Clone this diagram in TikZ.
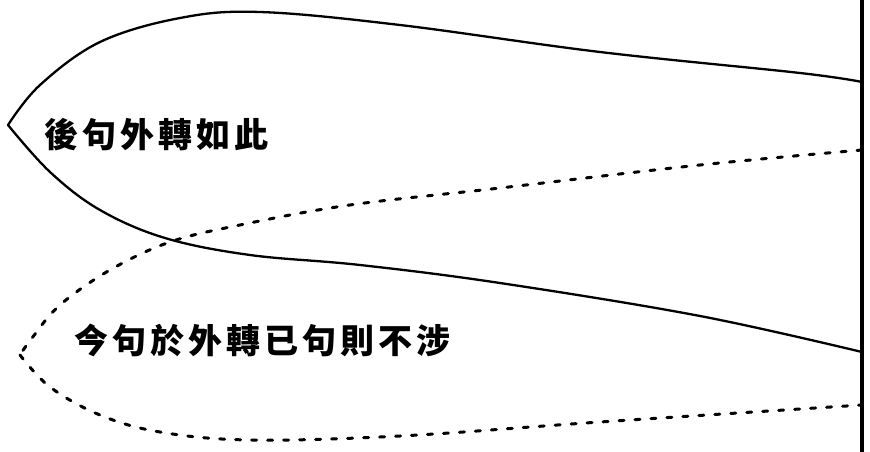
\documentclass[tikz,border=0pt]{standalone}
\usepackage{fontspec}
\newfontfamily\cjk[LetterSpace=12]{Noto Sans CJK TC}
\begin{document}
\begin{tikzpicture}[x=1pt,y=-1pt,
  solidline/.style={line width=2.3pt,line cap=round,line join=round},
  dashline/.style={line width=3pt,line cap=round,dash pattern=on 5pt off 11pt},
  label/.style={font=\cjk\bfseries\fontsize{34}{34}\selectfont,inner sep=0pt,anchor=west}]
\useasboundingbox (0,0) rectangle (870,452);
% right frame line
\coordinate (ftop) at (862,0);
\coordinate (fbot) at (862,452);
\draw[line width=4pt] (ftop) -- (fbot);
% solid leaf
\coordinate (tip) at (8,125);
\draw[solidline] plot[smooth,tension=0.6] coordinates {(8,125) (40,85) (100,42) (180,18) (260,12) (400,25) (600,52) (800,73) (862,82)};
\draw[solidline] plot[smooth,tension=0.6] coordinates {(8,125) (50,172) (100,210) (165,238) (250,255) (360,265) (500,283) (700,316) (862,352)};
% dashed leaf
\draw[dashline] plot[smooth,tension=0.6] coordinates {(862,150) (700,165) (500,188) (350,205) (240,225) (170,242) (110,270) (60,305) (32,338) (20,355)};
\draw[dashline] plot[smooth,tension=0.6] coordinates {(20,355) (50,387) (100,415) (160,432) (250,440) (400,436) (600,422) (862,405)};
% labels
\node[label] (t1) at (44,135) {後句外轉如此};
\node[label] (t2) at (74,340) {今句於外轉已句則不涉};
\end{tikzpicture}
\end{document}
